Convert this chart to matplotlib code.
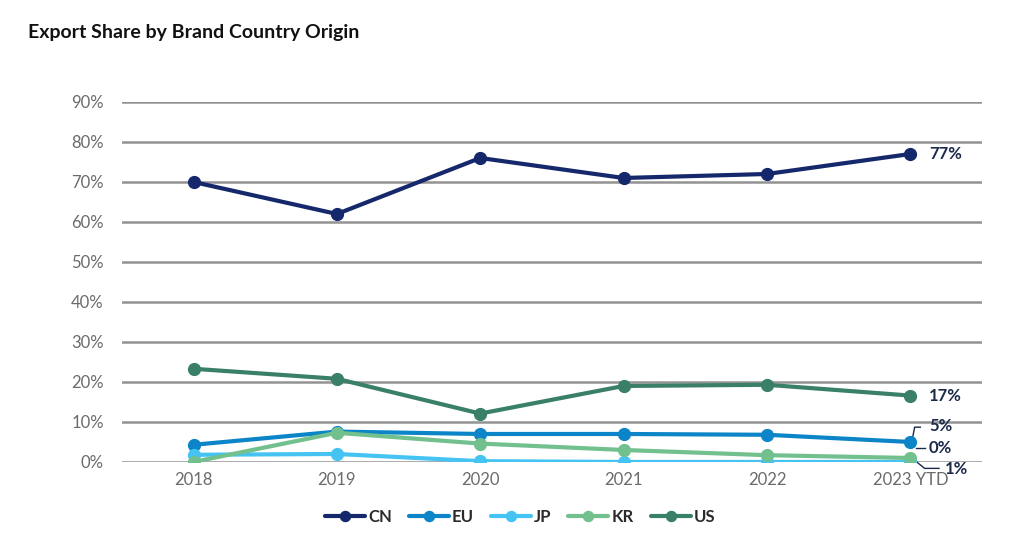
import numpy as np
import matplotlib.pyplot as plt
from matplotlib.ticker import MultipleLocator, FuncFormatter

plt.rcParams['font.family'] = ['Lato', 'DejaVu Sans']

years = ["2018", "2019", "2020", "2021", "2022", "2023 YTD"]
cn = [70, 62, 76, 71, 72, 77]
eu = [4.3, 7.6, 7.0, 7.0, 6.8, 5.0]
jp = [1.8, 2.0, 0.2, 0.0, 0.0, 0.0]
kr = [0.0, 7.3, 4.6, 3.0, 1.7, 1.0]
us = [23.3, 20.8, 12.1, 19.0, 19.3, 16.6]

series = [("CN", cn, "#14286b"), ("EU", eu, "#0b85c7"), ("JP", jp, "#45c3f2"),
          ("KR", kr, "#72c08e"), ("US", us, "#3a8068")]

fig = plt.figure(figsize=(10.24, 5.57), dpi=100)
ax = fig.add_axes([0.119, 0.1706, 0.84, 0.6463])
x = np.arange(len(years))

for name, vals, col in series:
    ax.plot(x, vals, color=col, lw=3, marker="o", ms=8.5, label=name,
            solid_capstyle="round", zorder=3)

ax.set_xlim(-0.5, len(years) - 0.5)
ax.set_ylim(0, 90)
ax.yaxis.set_major_locator(MultipleLocator(10))
ax.yaxis.set_major_formatter(FuncFormatter(lambda v, p: "%d%%" % v))
ax.set_xticks(x)
ax.set_xticklabels(years)
ax.grid(axis="y", color="#939393", lw=1.8, zorder=0)
for s in ax.spines.values():
    s.set_visible(False)
ax.tick_params(length=0, labelsize=12, colors="#6b6b6b", pad=7)
ax.tick_params(axis="y", pad=13)

lab_col = "#1c2a4a"
lab = dict(fontsize=12, fontweight="bold", color=lab_col, va="center")
ax.text(x[-1] + 0.13, cn[-1], "%d%%" % round(cn[-1]), **lab)
ax.text(x[-1] + 0.13, us[-1], "%d%%" % round(us[-1]), **lab)
# small-value labels with leader lines
ax.plot([x[-1] + 0.01, x[-1] + 0.03, x[-1] + 0.07], [eu[-1], 8.7, 8.7], color=lab_col, lw=1)
ax.text(x[-1] + 0.13, 8.9, "%d%%" % round(eu[-1]), **lab)
ax.plot([x[-1] + 0.04, x[-1] + 0.1], [3.6, 3.6], color=lab_col, lw=1)
ax.text(x[-1] + 0.13, 3.6, "%d%%" % round(jp[-1]), **lab)
ax.plot([x[-1] + 0.01, x[-1] + 0.1, x[-1] + 0.2], [kr[-1], -1.6, -1.6], color=lab_col, lw=1,
        clip_on=False)
ax.text(x[-1] + 0.24, -1.8, "%d%%" % round(kr[-1]), **lab)

h, l = ax.get_legend_handles_labels()
leg = fig.legend(h, l, loc="center", bbox_to_anchor=(0.508, 0.072), ncol=5, frameon=False,
                 handlelength=2.4, columnspacing=1.0, handletextpad=0.2, markerscale=0.85,
                 prop={"weight": "bold", "size": 12})
for t in leg.get_texts():
    t.set_color("#2a2a2a")

fig.text(0.027, 0.942, "Export Share by Brand Country Origin", fontsize=14,
         fontweight="bold", color="#111111", va="center")

fig.savefig("out.png", dpi=100)
